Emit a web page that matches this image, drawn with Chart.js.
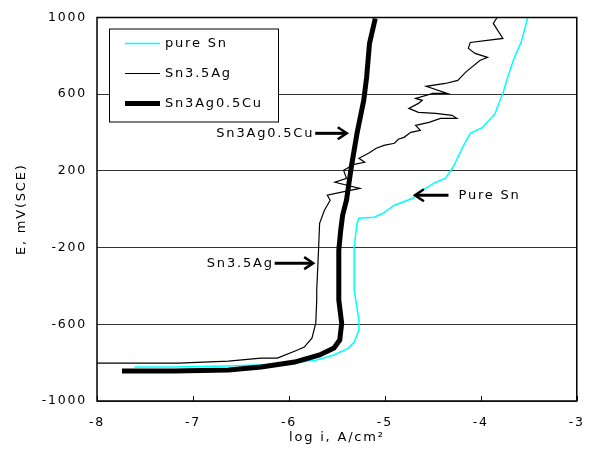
<!DOCTYPE html>
<html lang="en">
<head>
  <meta charset="UTF-8">
  <title>Polarization curves - Sn solders</title>
  <script src="https://cdn.jsdelivr.net/npm/chart.js"></script>
  <style>
    body {
      margin: 0;
      background: white;
    }
    canvas {
      display: block;
    }
  </style>
</head>
<body>
  <canvas id="polChart" width="597" height="460"></canvas>

  <script>
    // axis ticks
    const xTickValues = [-8, -7, -6, -5, -4, -3];
    const yTickValues = [-1000, -600, -200, 200, 600, 1000];

    // pure Sn (log i, E)
    const pureSnLogI = [-7.61, -7.2, -6.63, -6.05, -5.71, -5.53, -5.38, -5.32, -5.27, -5.27, -5.32, -5.32, -5.29, -5.27,
      -5.11, -5.02, -4.9, -4.71, -4.61, -4.47, -4.37, -4.29, -4.19, -4.11, -3.98, -3.85, -3.8, -3.77, -3.72, -3.65, -3.58, -3.51];
    const pureSnE = [-823, -823, -818, -807, -786, -760, -724, -693, -630, -578, -422, -198, -73, -47,
      -42, -21, 21, 57, 99, 141, 161, 219, 323, 396, 427, 500, 568, 604, 688, 792, 870, 1000];

    // Sn3.5Ag
    const snAgLogI = [-8, -7.15, -6.63, -6.29, -6.12, -5.91, -5.84, -5.76, -5.72, -5.71, -5.71, -5.69, -5.68, -5.63,
      -5.57, -5.6, -5.45, -5.26, -5.52, -5.4, -5.43, -5.32, -5.21, -5.27, -5.17, -5.09, -5.01, -4.9, -4.86, -4.8,
      -4.73, -4.63, -4.68, -4.54, -4.42, -4.25, -4.3, -4.47, -4.65, -4.75, -4.65, -4.61, -4.68, -4.5, -4.35, -4.57,
      -4.37, -4.24, -4.16, -4.01, -3.93, -4.06, -4.13, -4.11, -3.77, -3.87, -3.83];
    const snAgE = [-802, -802, -792, -776, -776, -734, -719, -672, -594, -474, -422, -198, -73, -5,
      47, 73, 89, 109, 141, 161, 203, 234, 245, 266, 292, 318, 333, 344, 365, 375,
      401, 411, 437, 453, 474, 474, 490, 500, 505, 526, 552, 568, 578, 604, 604, 641,
      656, 672, 714, 776, 792, 813, 839, 870, 891, 969, 1000];

    // Sn3Ag0.5Cu
    const snAgCuLogI = [-7.74, -7.2, -6.63, -6.29, -5.94, -5.68, -5.53, -5.47, -5.45, -5.48, -5.48, -5.48, -5.46, -5.44,
      -5.4, -5.35, -5.29, -5.22, -5.19, -5.16, -5.1];
    const snAgCuE = [-844, -844, -838, -823, -797, -760, -724, -682, -594, -474, -370, -213, -109, -31,
      47, 219, 396, 568, 688, 865, 995];

    // arrows with labels
    const notes = [
      { text: 'Sn3Ag0.5Cu', tail: -5.726, tip: -5.397, e: 396, side: 'left' },
      { text: 'Pure Sn', tail: -4.337, tip: -4.687, e: 73, side: 'right' },
      { text: 'Sn3.5Ag', tail: -6.148, tip: -5.747, e: -281, side: 'left' }
    ];

    const textFont = '13px "DejaVu Sans", Verdana, sans-serif';
    const spacing = '1.8px';

    function toPoints(xs, ys) {
      return xs.map((x, i) => ({ x: x, y: ys[i] }));
    }

    const framePlugin = {
      id: 'frame',
      beforeDraw(chart) {
        const ctx = chart.ctx;
        ctx.letterSpacing = spacing;
        ctx.save();
        ctx.fillStyle = 'white';
        ctx.fillRect(0, 0, chart.width, chart.height);
        ctx.restore();
      },
      afterDatasetsDraw(chart) {
        const ctx = chart.ctx;
        const a = chart.chartArea;
        const xs = chart.scales.x;
        const ys = chart.scales.y;
        ctx.save();

        // small ticks inside at the bottom
        ctx.strokeStyle = '#000';
        ctx.lineWidth = 1;
        xTickValues.forEach(v => {
          const px = Math.round(xs.getPixelForValue(v)) + 0.5;
          ctx.beginPath();
          ctx.moveTo(px, a.bottom);
          ctx.lineTo(px, a.bottom - 5);
          ctx.stroke();
        });

        // plot box
        ctx.lineWidth = 1.5;
        ctx.strokeRect(a.left, a.top, a.right - a.left, a.bottom - a.top);

        // legend
        const lx = a.left + 12, ly = a.top + 11;
        ctx.fillStyle = 'white';
        ctx.fillRect(lx, ly, 169, 93);
        ctx.lineWidth = 1;
        ctx.strokeStyle = '#000';
        ctx.strokeRect(lx + 0.5, ly + 0.5, 169, 93);
        ctx.font = textFont;
        ctx.textBaseline = 'middle';
        ctx.textAlign = 'left';
        chart.data.datasets.forEach((ds, i) => {
          const y = ly + 15 + i * 30;
          ctx.beginPath();
          ctx.strokeStyle = ds.borderColor;
          ctx.lineWidth = ds.borderWidth;
          ctx.moveTo(lx + 16, y);
          ctx.lineTo(lx + 51, y);
          ctx.stroke();
          ctx.fillStyle = '#000';
          ctx.fillText(ds.label, lx + 56, y);
        });

        // arrows
        ctx.strokeStyle = '#000';
        ctx.fillStyle = '#000';
        notes.forEach(n => {
          const x1 = xs.getPixelForValue(n.tail);
          const x2 = xs.getPixelForValue(n.tip);
          const y = ys.getPixelForValue(n.e);
          const dir = x2 > x1 ? 1 : -1;
          ctx.lineWidth = 3;
          ctx.beginPath();
          ctx.moveTo(x1, y);
          ctx.lineTo(x2 - dir * 2, y);
          ctx.stroke();
          ctx.lineWidth = 2.5;
          ctx.beginPath();
          ctx.moveTo(x2 - dir * 9, y - 6);
          ctx.lineTo(x2, y);
          ctx.lineTo(x2 - dir * 9, y + 6);
          ctx.stroke();
          if (n.side === 'left') {
            ctx.textAlign = 'right';
            ctx.fillText(n.text, x1 - 1, y);
          } else {
            ctx.textAlign = 'left';
            ctx.fillText(n.text, x1 + 10, y);
          }
        });
        ctx.restore();
      }
    };

    const ctx = document.getElementById('polChart').getContext('2d');
    new Chart(ctx, {
      type: 'scatter',
      data: {
        datasets: [{
          label: 'pure Sn',
          data: toPoints(pureSnLogI, pureSnE),
          borderColor: '#00ffff',
          borderWidth: 1.5,
          showLine: true,
          pointRadius: 0,
          order: 2
        }, {
          label: 'Sn3.5Ag',
          data: toPoints(snAgLogI, snAgE),
          borderColor: '#000',
          borderWidth: 1.2,
          showLine: true,
          pointRadius: 0,
          order: 1
        }, {
          label: 'Sn3Ag0.5Cu',
          data: toPoints(snAgCuLogI, snAgCuE),
          borderColor: '#000',
          borderWidth: 5,
          showLine: true,
          pointRadius: 0,
          order: 0
        }]
      },
      options: {
        responsive: false,
        animation: false,
        layout: { padding: { top: 17, right: 14, left: 0, bottom: 0 } },
        plugins: {
          legend: { display: false },
          tooltip: { enabled: false }
        },
        scales: {
          x: {
            type: 'linear',
            min: -8,
            max: -3,
            afterBuildTicks: s => { s.ticks = xTickValues.map(v => ({ value: v })); },
            afterFit: s => { s.height = 59; },
            grid: { display: false, drawTicks: false },
            border: { display: false },
            ticks: {
              color: '#000',
              padding: 14,
              autoSkip: false,
              maxRotation: 0,
              callback: v => String(v),
              font: { family: '"DejaVu Sans", Verdana, sans-serif', size: 12.5 }
            },
            title: {
              display: true,
              text: 'log i, A/cm\u00b2',
              color: '#000',
              padding: { top: 0, bottom: 15 },
              font: { family: '"DejaVu Sans", Verdana, sans-serif', size: 13 }
            }
          },
          y: {
            type: 'linear',
            min: -1000,
            max: 1000,
            afterBuildTicks: s => { s.ticks = yTickValues.map(v => ({ value: v })); },
            afterFit: s => { s.width = 97; },
            grid: { color: '#333', lineWidth: 1, drawTicks: false },
            border: { display: false },
            ticks: {
              color: '#000',
              padding: 10,
              autoSkip: false,
              callback: v => String(v),
              font: { family: '"DejaVu Sans", Verdana, sans-serif', size: 12.5 }
            },
            title: {
              display: true,
              text: 'E, mV(SCE)',
              color: '#000',
              padding: { top: 14, bottom: 0 },
              font: { family: '"DejaVu Sans", Verdana, sans-serif', size: 13 }
            }
          }
        }
      },
      plugins: [framePlugin]
    });
  </script>
</body>
</html>
